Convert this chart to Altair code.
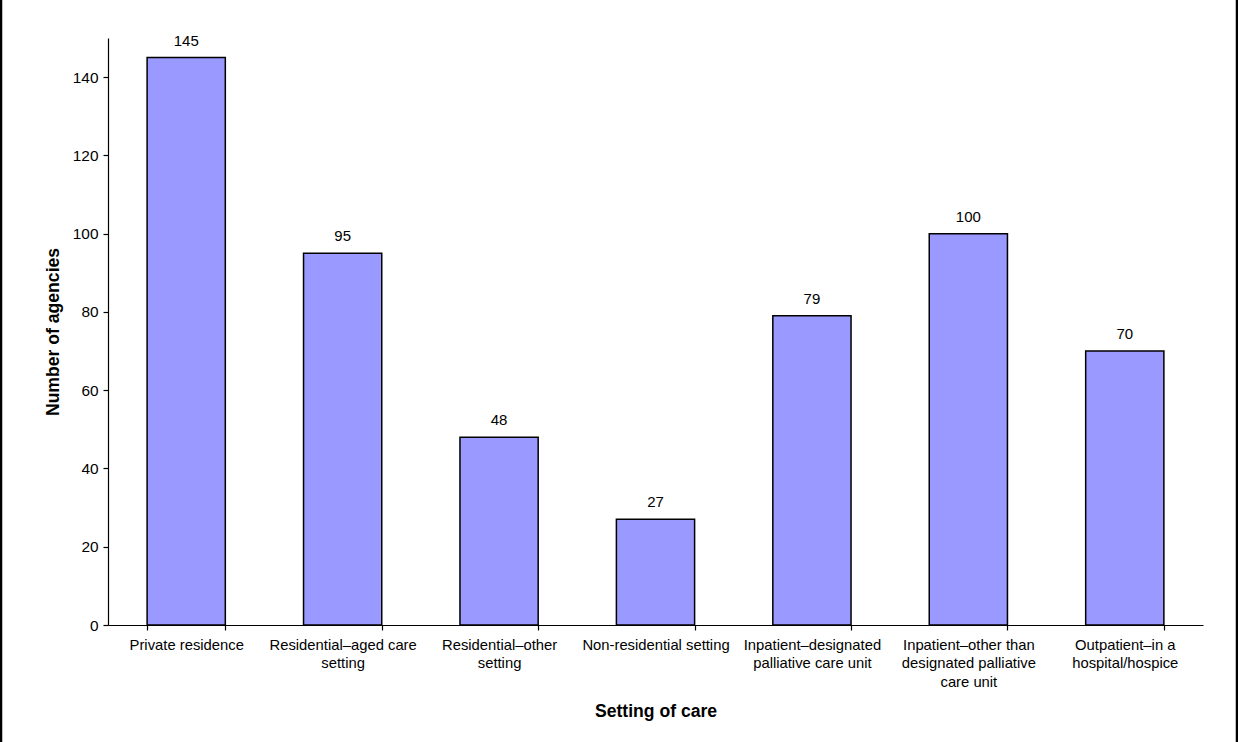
import altair as alt
import pandas as pd

# Settings of care and the number of agencies providing each
settings = [
    "Private residence",
    "Residential–aged care\nsetting",
    "Residential–other\nsetting",
    "Non-residential setting",
    "Inpatient–designated\npalliative care unit",
    "Inpatient–other than\ndesignated palliative\ncare unit",
    "Outpatient–in a\nhospital/hospice",
]
agencies = [145, 95, 48, 27, 79, 100, 70]

df = pd.DataFrame({"setting": settings, "agencies": agencies})

FONT = "Liberation Sans"

x = alt.X(
    "setting:N",
    sort=settings,
    title="Setting of care",
    scale=alt.Scale(paddingInner=0.5, paddingOuter=0.25),
    axis=alt.Axis(
        labelAngle=0,
        labelExpr="split(datum.label, '\\n')",
        labelLineHeight=18.5,
        labelFontSize=14.8,
        labelPadding=7,
        tickBand="extent",
        tickSize=5,
        titlePadding=14,
    ),
)
y = alt.Y(
    "agencies:Q",
    title="Number of agencies",
    scale=alt.Scale(domain=[0, 150], nice=False),
    axis=alt.Axis(values=[0, 20, 40, 60, 80, 100, 120, 140], tickSize=5,
                  labelFontSize=15.4, labelPadding=5, titlePadding=10),
)

bars = alt.Chart(df).mark_bar(
    color="#9999FF", stroke="#000000", strokeWidth=1.5
).encode(x=x, y=y)

labels = alt.Chart(df).mark_text(
    baseline="bottom", dy=-9, fontSize=15, font=FONT, color="#000000"
).encode(x=x, y=y, text="agencies:Q")

# Frame lines at the left and right edges of the figure
edge_data = pd.DataFrame({"k": [0]})
left_edge = alt.Chart(edge_data).mark_rule(
    color="#000000", strokeWidth=2.5, clip=False
).encode(x=alt.value(-107), y=alt.value(-40), y2=alt.value(720))
right_edge = alt.Chart(edge_data).mark_rule(
    color="#000000", strokeWidth=2.5, clip=False
).encode(x=alt.value(1129), y=alt.value(-40), y2=alt.value(720))

chart = (
    alt.layer(bars, labels, left_edge, right_edge)
    .properties(width=1095, height=587,
                padding={"left": 108, "top": 38, "right": 35, "bottom": 117},
                autosize="none")
    .configure_view(stroke=None)
    .configure_axis(
        labelFont=FONT, titleFont=FONT, titleFontSize=17.6, titleFontWeight="bold",
        domainColor="#000000", tickColor="#000000", labelColor="#000000",
        titleColor="#000000", grid=False, domainWidth=1.2, tickWidth=1.2,
    )
)

chart.save("out.html", embed_options={"renderer": "svg", "actions": False})
